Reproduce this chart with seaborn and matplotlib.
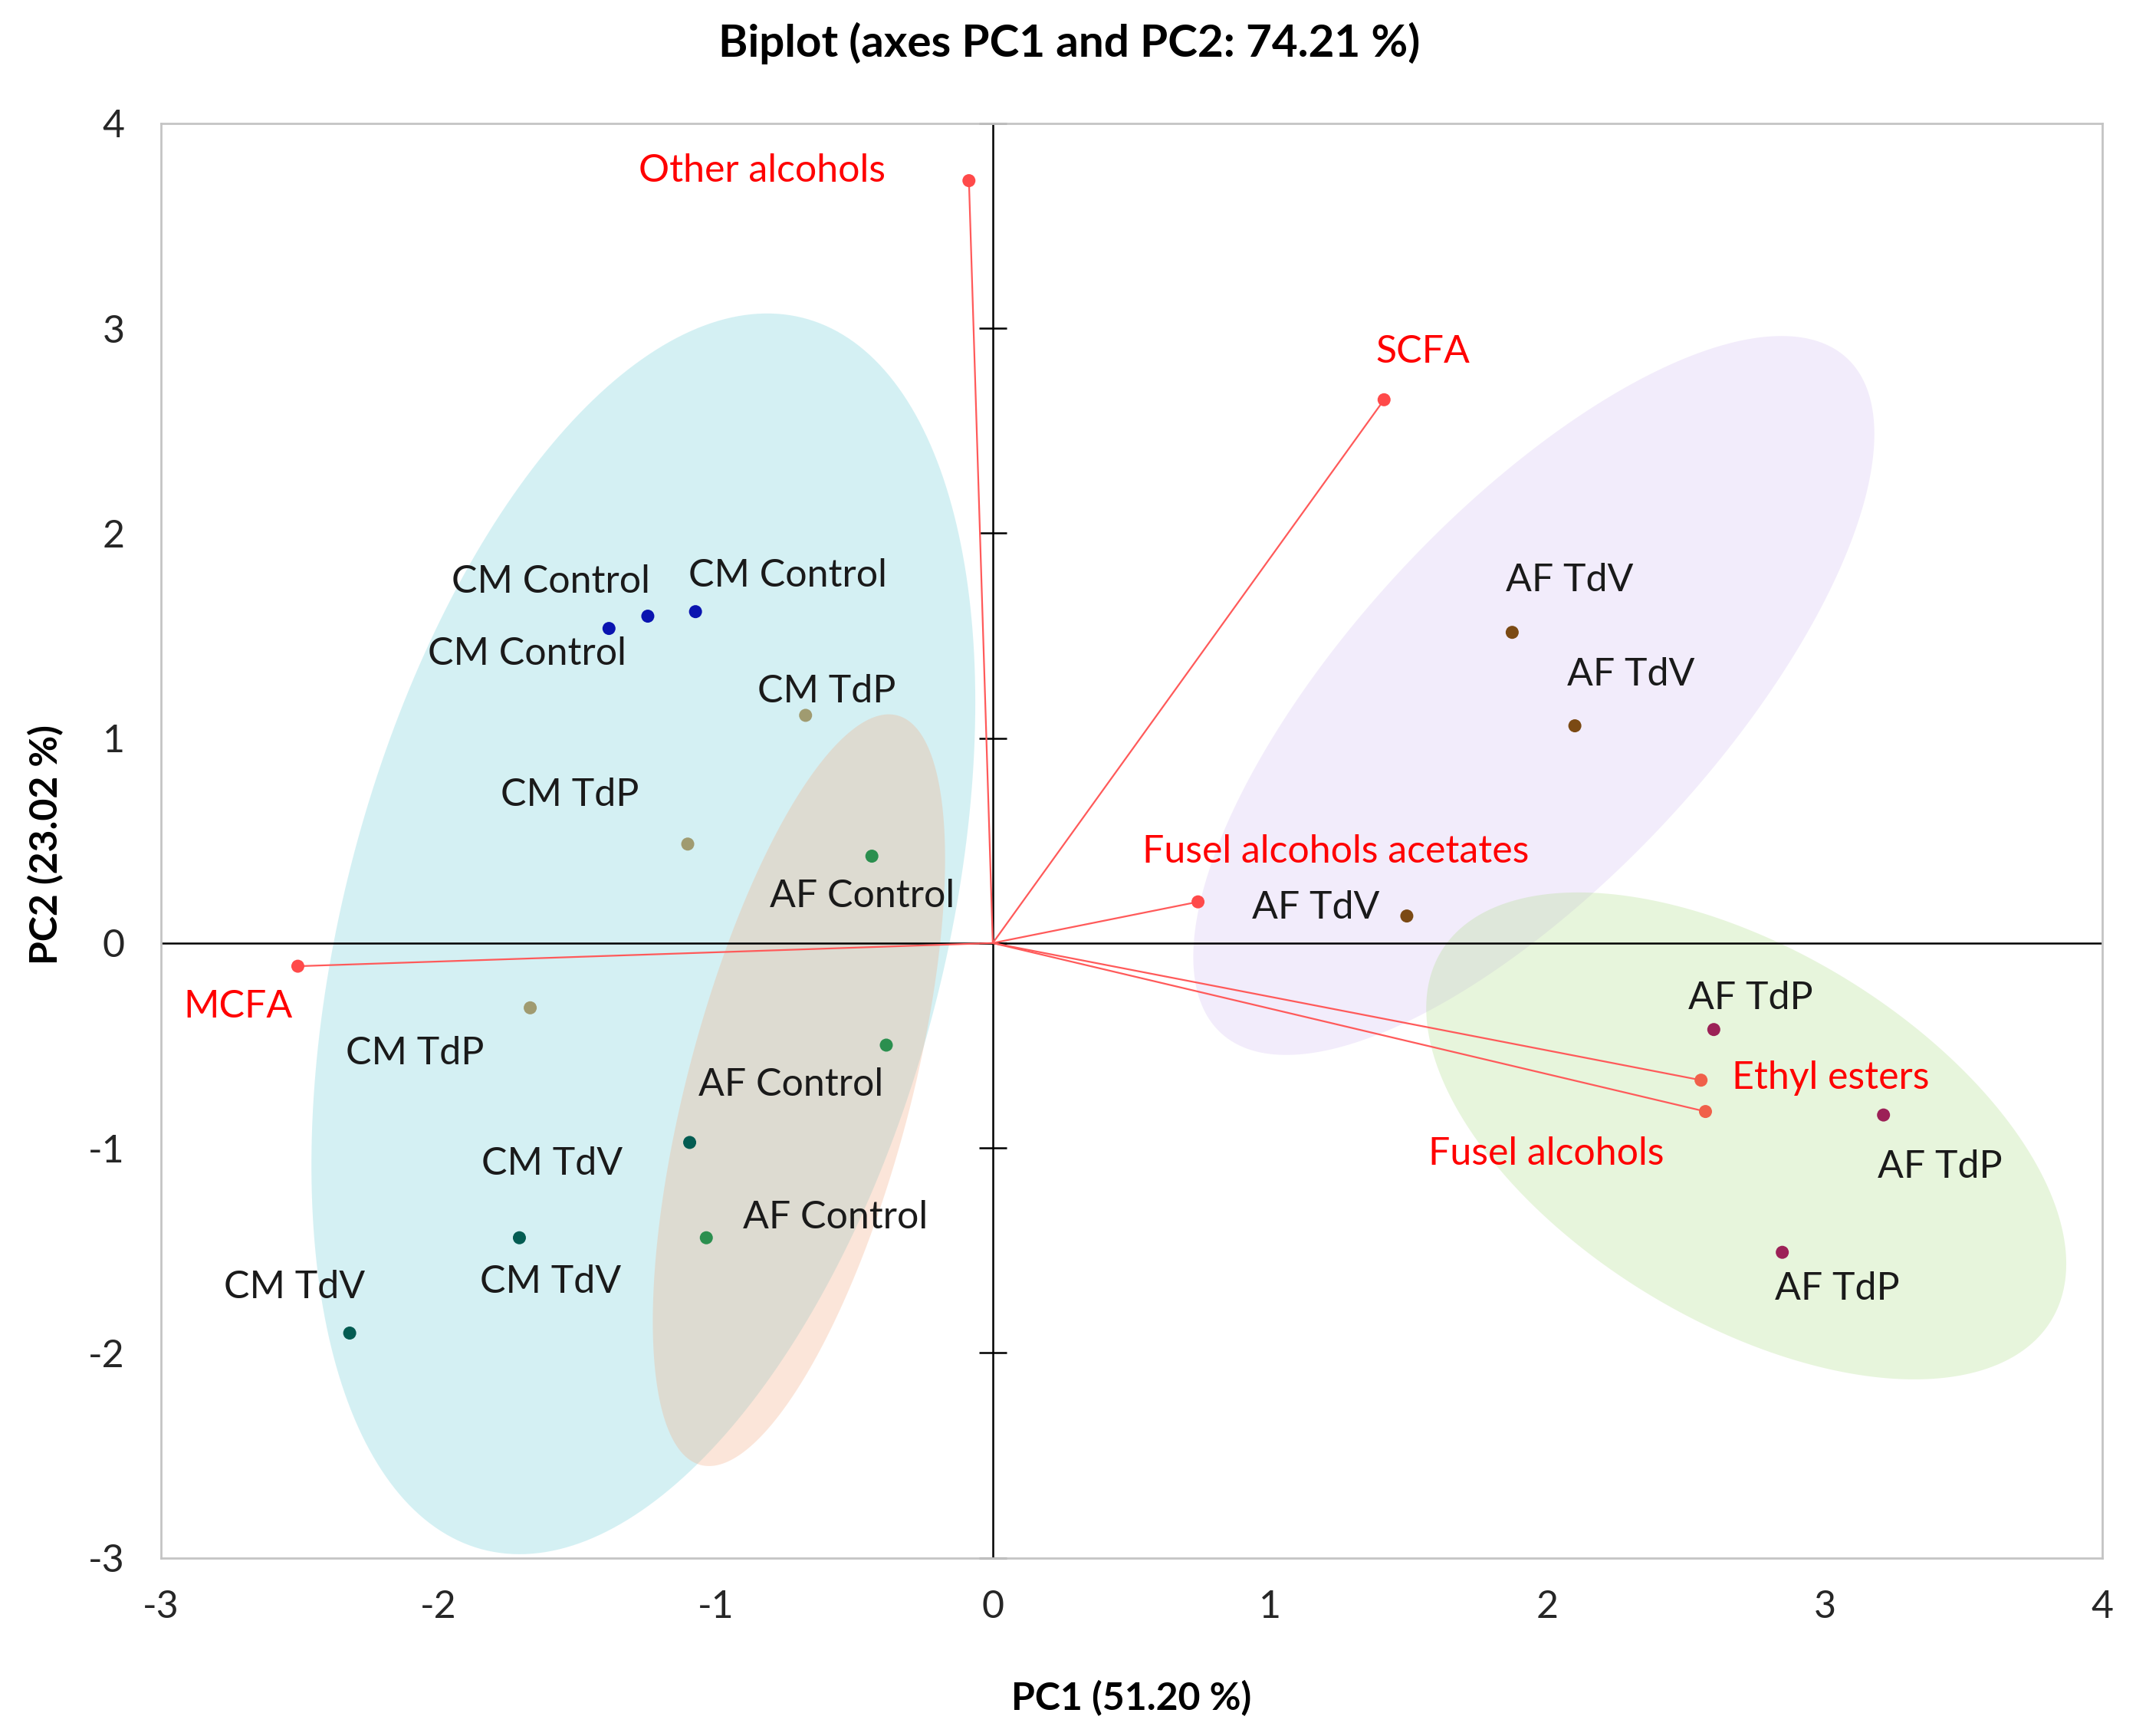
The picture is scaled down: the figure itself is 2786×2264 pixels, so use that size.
import numpy as np
import pandas as pd
import seaborn as sns
import matplotlib.pyplot as plt

# observations (PC1, PC2 scores)
obs_group = ["CM Control", "CM Control", "CM Control",
             "CM TdP", "CM TdP", "CM TdP",
             "CM TdV", "CM TdV", "CM TdV",
             "AF Control", "AF Control", "AF Control",
             "AF TdV", "AF TdV", "AF TdV",
             "AF TdP", "AF TdP", "AF TdP"]
obs_pc1 = [-1.384, -1.244, -1.072, -0.675, -1.100, -1.668, -1.093, -1.707, -2.319,
           -0.436, -0.384, -1.033, 1.873, 2.099, 1.493, 2.600, 3.212, 2.847]
obs_pc2 = [1.535, 1.595, 1.617, 1.111, 0.483, -0.316, -0.973, -1.438, -1.903,
           0.424, -0.498, -1.438, 1.516, 1.060, 0.132, -0.422, -0.839, -1.509]

# variables (loadings)
var_names = ["Other alcohols", "SCFA", "Fusel alcohols acetates", "MCFA",
             "Ethyl esters", "Fusel alcohols"]
var_pc1 = [-0.086, 1.411, 0.740, -2.506, 2.554, 2.570]
var_pc2 = [3.720, 2.651, 0.201, -0.113, -0.669, -0.822]

# group ellipses: centre, half extents, correlation
ell_group = ["CM", "AF Control", "AF TdV", "AF TdP"]
ell_cx = [-1.260, -0.699, 1.951, 2.717]
ell_cy = [0.045, -0.718, 1.208, -0.941]
ell_rx = [1.197, 0.527, 1.228, 1.154]
ell_ry = [3.027, 1.834, 1.754, 1.188]
ell_rho = [0.373, 0.615, 0.727, -0.525]

# styles / layout
obs_colors = {"CM Control": "#0a14b0", "CM TdP": "#a09b70", "CM TdV": "#035c52",
              "AF Control": "#2b8f4f", "AF TdV": "#7b4a14", "AF TdP": "#9c2157"}
ell_colors = ["#73d0da", "#f5ac84", "#d6c2f2", "#b2de8e"]
obs_offsets = [(-107, 33), (-126, -45), (120, -47), (27, -31), (-154, -64), (-150, 60),
               (-179, 28), (41, 58), (-72, -60), (-13, 52), (-124, 52), (168, -26),
               (75, -68), (73, -67), (-119, -11), (48, -41), (74, 68), (72, 48)]
var_offsets = [(-270, -13), (51, -62), (180, -65), (-78, 53), (169, -3), (-208, 55)]
var_dot_colors = ["#ff4a4a", "#ff4a4a", "#ff4a4a", "#ff4a4a", "#f0604a", "#f0604a"]

sns.set_theme(style="white")
plt.rcParams["font.family"] = ["Lato", "DejaVu Sans"]
plt.rcParams["axes.unicode_minus"] = False

fig = plt.figure(figsize=(27.86, 22.64), dpi=100)
ax = fig.add_axes([0.0753, 0.1026, 0.9088, 0.8264])

# ellipses
t = np.linspace(0, 2 * np.pi, 300)
for i in range(len(ell_group)):
    ex = ell_cx[i] + ell_rx[i] * np.cos(t)
    ey = ell_cy[i] + ell_ry[i] * (ell_rho[i] * np.cos(t)
                                  + np.sqrt(1 - ell_rho[i] ** 2) * np.sin(t))
    ax.fill(ex, ey, color=ell_colors[i], alpha=0.3, lw=0, zorder=1)

# axes through origin
ax.axhline(0, color="black", lw=1.8, zorder=2)
ax.axvline(0, color="black", lw=1.8, zorder=2)
ax.plot([0] * 8, np.arange(-3, 5), ls="none", marker="_", ms=26, mew=1.8,
        color="black", zorder=2, clip_on=False)

# variable vectors
for i in range(len(var_names)):
    ax.plot([0, var_pc1[i]], [0, var_pc2[i]], color="#ff5a5a", lw=1.6, zorder=3)
ax.scatter(var_pc1, var_pc2, s=150, c=var_dot_colors, lw=0, zorder=4)
for i, name in enumerate(var_names):
    dx, dy = var_offsets[i]
    ax.annotate(name, (var_pc1[i], var_pc2[i]), xytext=(dx, -dy),
                textcoords="offset pixels", ha="center", va="center",
                fontsize=36, color="#ff0000", zorder=5)

# observations
df = pd.DataFrame({"PC1": obs_pc1, "PC2": obs_pc2, "group": obs_group})
sns.scatterplot(data=df, x="PC1", y="PC2", hue="group", palette=obs_colors,
                s=150, linewidth=0, legend=False, ax=ax, zorder=4)
for i, name in enumerate(obs_group):
    dx, dy = obs_offsets[i]
    ax.annotate(name, (obs_pc1[i], obs_pc2[i]), xytext=(dx, -dy),
                textcoords="offset pixels", ha="center", va="center",
                fontsize=36, color="#1a1a1a", zorder=5)

ax.set_xlim(-3, 4)
ax.set_ylim(-3, 4)
ax.set_xticks(range(-3, 5))
ax.set_yticks(range(-3, 5))
ax.tick_params(length=0, labelsize=36, labelcolor="#262626")
ax.tick_params(axis="x", pad=30)
ax.tick_params(axis="y", pad=34)
for sp in ax.spines.values():
    sp.set_color("#c4c4c4")
    sp.set_linewidth(2)

ax.set_xlabel("PC1 (51.20 %)", fontsize=36, fontweight="bold", color="black", va="center")
ax.set_ylabel("PC2 (23.02 %)", fontsize=36, fontweight="bold", color="black", va="center")
ax.xaxis.set_label_coords(0.5, -0.098)
ax.yaxis.set_label_coords(-0.0595, 0.497)
fig.text(0.5007, 0.975, "Biplot (axes PC1 and PC2: 74.21 %)", fontsize=42,
         fontweight="bold", ha="center", va="center", color="black")

fig.savefig("out.png", dpi=100)
